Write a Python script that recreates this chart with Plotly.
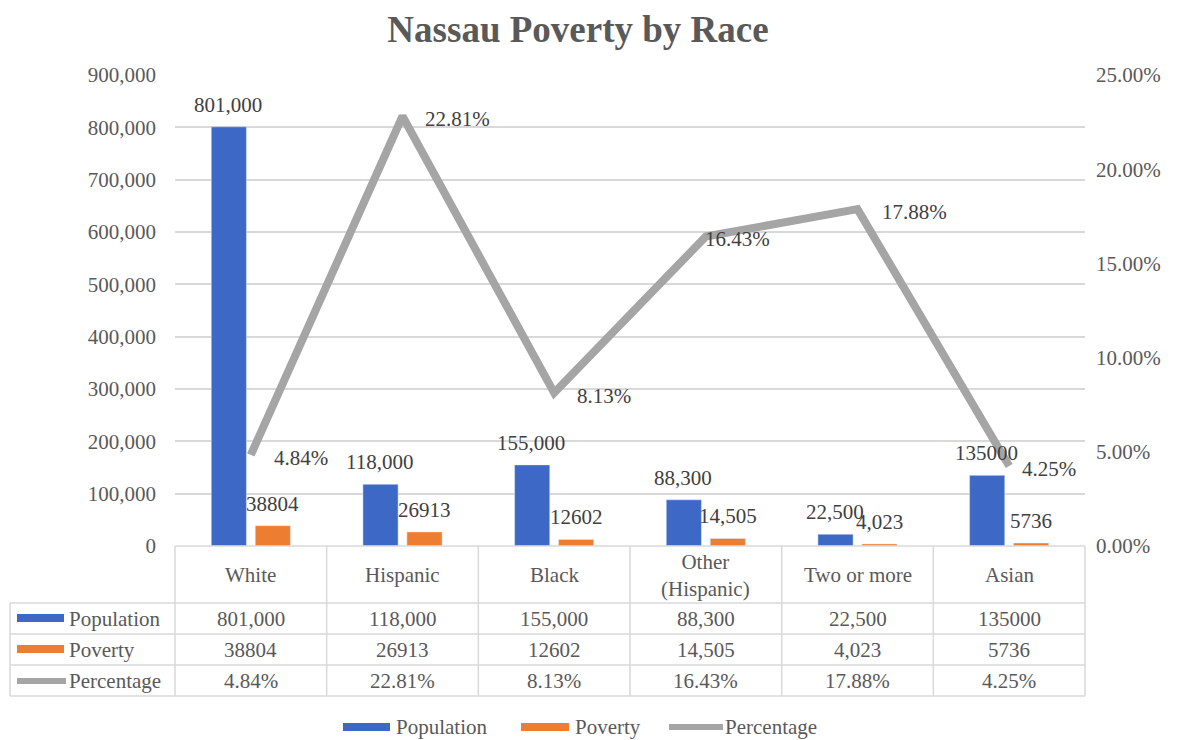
import plotly.graph_objects as go

# data
races = ["White", "Hispanic", "Black", "Other (Hispanic)", "Two or more", "Asian"]
race_labels = ["White", "Hispanic", "Black", "Other<br>(Hispanic)", "Two or more", "Asian"]
population = [801000, 118000, 155000, 88300, 22500, 135000]
poverty = [38804, 26913, 12602, 14505, 4023, 5736]
percentage = [0.0484, 0.2281, 0.0813, 0.1643, 0.1788, 0.0425]

# labels as printed in the chart (formatting is inconsistent in the source)
pop_text = ["801,000", "118,000", "155,000", "88,300", "22,500", "135000"]
pov_text = ["38804", "26913", "12602", "14,505", "4,023", "5736"]
pct_text = ["4.84%", "22.81%", "8.13%", "16.43%", "17.88%", "4.25%"]

BLUE = "#3E68C6"
ORANGE = "#ED7D31"
GRAY = "#A5A5A5"
TXT = "#595959"
LBL = "#404040"
GRID = "#D9D9D9"
FONT = "Liberation Serif, Times New Roman, serif"
FS = 21

W, H = 1178, 740
OFF = 8                           # page body margin
L, R, T, B = 175, 1085, 75, 546   # plot area, reference pixels


def px(x):
    return (x - L) / (R - L)


def py(y):
    return (B - y) / (B - T)


fig = go.Figure()
fig.add_trace(go.Bar(x=races, y=population, name="Population", marker_color=BLUE))
fig.add_trace(go.Bar(x=races, y=poverty, name="Poverty", marker_color=ORANGE))
fig.add_trace(go.Scatter(x=races, y=percentage, name="Percentage", yaxis="y2",
                         mode="lines", line=dict(color=GRAY, width=8)))

shapes = []
annots = []

# data labels (Excel nudged a couple of the percentage labels)
for i, r in enumerate(races):
    annots.append(dict(x=r, y=population[i], xref="x", yref="y", text=pop_text[i],
                       showarrow=False, yanchor="bottom", xshift=-23, yshift=8,
                       font=dict(size=FS, color=LBL, family=FONT)))
    annots.append(dict(x=r, y=poverty[i], xref="x", yref="y", text=pov_text[i],
                       showarrow=False, yanchor="bottom", xshift=22, yshift=8,
                       font=dict(size=FS, color=LBL, family=FONT)))
pct_shift = [21, 20, 21, -3, 22, 11]
for i, r in enumerate(races):
    annots.append(dict(x=r, y=percentage[i], xref="x", yref="y2", text=pct_text[i],
                       showarrow=False, xanchor="left", yanchor="middle",
                       xshift=pct_shift[i], yshift=-3,
                       font=dict(size=FS, color=LBL, family=FONT)))

# table grid
line = dict(color=GRID, width=1.5)
for yy in [603, 634, 665, 696]:
    shapes.append(dict(type="line", xref="paper", yref="paper", x0=px(10), x1=1,
                       y0=py(yy), y1=py(yy), line=line))
shapes.append(dict(type="line", xref="paper", yref="paper", x0=0, x1=1,
                   y0=0, y1=0, line=line))
for xx in [0, 1]:
    shapes.append(dict(type="line", xref="paper", yref="paper", x0=xx, x1=xx,
                       y0=0, y1=py(696), line=line))
for i in range(len(races) - 1):
    shapes.append(dict(type="line", xref="x", yref="paper", x0=i + 0.5, x1=i + 0.5,
                       y0=0, y1=py(696), line=line))
shapes.append(dict(type="line", xref="paper", yref="paper", x0=px(10), x1=px(10),
                   y0=py(603), y1=py(696), line=line))

# category header row
for i, lab in enumerate(race_labels):
    annots.append(dict(x=i, y=py(575), xref="x", yref="paper", text=lab, showarrow=False,
                       yanchor="middle", font=dict(size=FS, color=TXT, family=FONT)))

# data rows
rows = [("Population", pop_text, 618.5), ("Poverty", pov_text, 649.5),
        ("Percentage", pct_text, 680.5)]
for name, vals, yy in rows:
    annots.append(dict(x=px(67), y=py(yy), xref="paper", yref="paper", text=name,
                       showarrow=False, xanchor="left", yanchor="middle",
                       font=dict(size=FS, color=TXT, family=FONT)))
    for i, v in enumerate(vals):
        annots.append(dict(x=i, y=py(yy), xref="x", yref="paper", text=v, showarrow=False,
                           yanchor="middle", font=dict(size=FS, color=TXT, family=FONT)))

# legend keys inside the table
shapes.append(dict(type="rect", xref="paper", yref="paper", x0=px(17), x1=px(64),
                   y0=py(622), y1=py(614), fillcolor=BLUE, line_width=0))
shapes.append(dict(type="rect", xref="paper", yref="paper", x0=px(17), x1=px(64),
                   y0=py(653), y1=py(645), fillcolor=ORANGE, line_width=0))
shapes.append(dict(type="line", xref="paper", yref="paper", x0=px(17), x1=px(66),
                   y0=py(681), y1=py(681), line=dict(color=GRAY, width=6)))

# bottom legend, drawn by hand to get the wide Excel-style keys
shapes.append(dict(type="rect", xref="paper", yref="paper", x0=px(343), x1=px(390),
                   y0=py(731), y1=py(723), fillcolor=BLUE, line_width=0))
shapes.append(dict(type="rect", xref="paper", yref="paper", x0=px(521), x1=px(569),
                   y0=py(731), y1=py(723), fillcolor=ORANGE, line_width=0))
shapes.append(dict(type="line", xref="paper", yref="paper", x0=px(669), x1=px(723),
                   y0=py(727), y1=py(727), line=dict(color=GRAY, width=6)))
for name, xx in [("Population", 394), ("Poverty", 573), ("Percentage", 723)]:
    annots.append(dict(x=px(xx), y=py(727), xref="paper", yref="paper", text=name,
                       showarrow=False, xanchor="left", yanchor="middle",
                       font=dict(size=FS, color=TXT, family=FONT)))

fig.update_layout(
    width=W, height=H,
    margin=dict(l=L - OFF, r=W - (R - OFF), t=T - OFF, b=H - (B - OFF)),
    paper_bgcolor="white", plot_bgcolor="white",
    font=dict(family=FONT, color=TXT, size=FS),
    showlegend=False,
    title=dict(text="<b>Nassau Poverty by Race</b>", x=px(578), xref="paper",
               xanchor="center", y=1 - (29 - OFF) / H, yanchor="middle",
               font=dict(size=37, color=TXT, family=FONT)),
    barmode="group", bargap=0.42, bargroupgap=0.2,
    xaxis=dict(showticklabels=False, showgrid=False, zeroline=False,
               range=[-0.5, 5.5], ticks=""),
    yaxis=dict(range=[0, 900000], dtick=100000, tickformat=",", showgrid=True,
               gridcolor=GRID, gridwidth=1.5, zeroline=False, showline=False,
               ticklabelstandoff=18, tickfont=dict(size=FS, color=TXT, family=FONT)),
    yaxis2=dict(range=[0, 0.25], dtick=0.05, tickformat=".2%", overlaying="y",
                side="right", showgrid=False, zeroline=False, showline=False,
                ticklabelstandoff=10, tickfont=dict(size=FS, color=TXT, family=FONT)),
    shapes=shapes, annotations=annots,
)

fig.write_html("out.html")
